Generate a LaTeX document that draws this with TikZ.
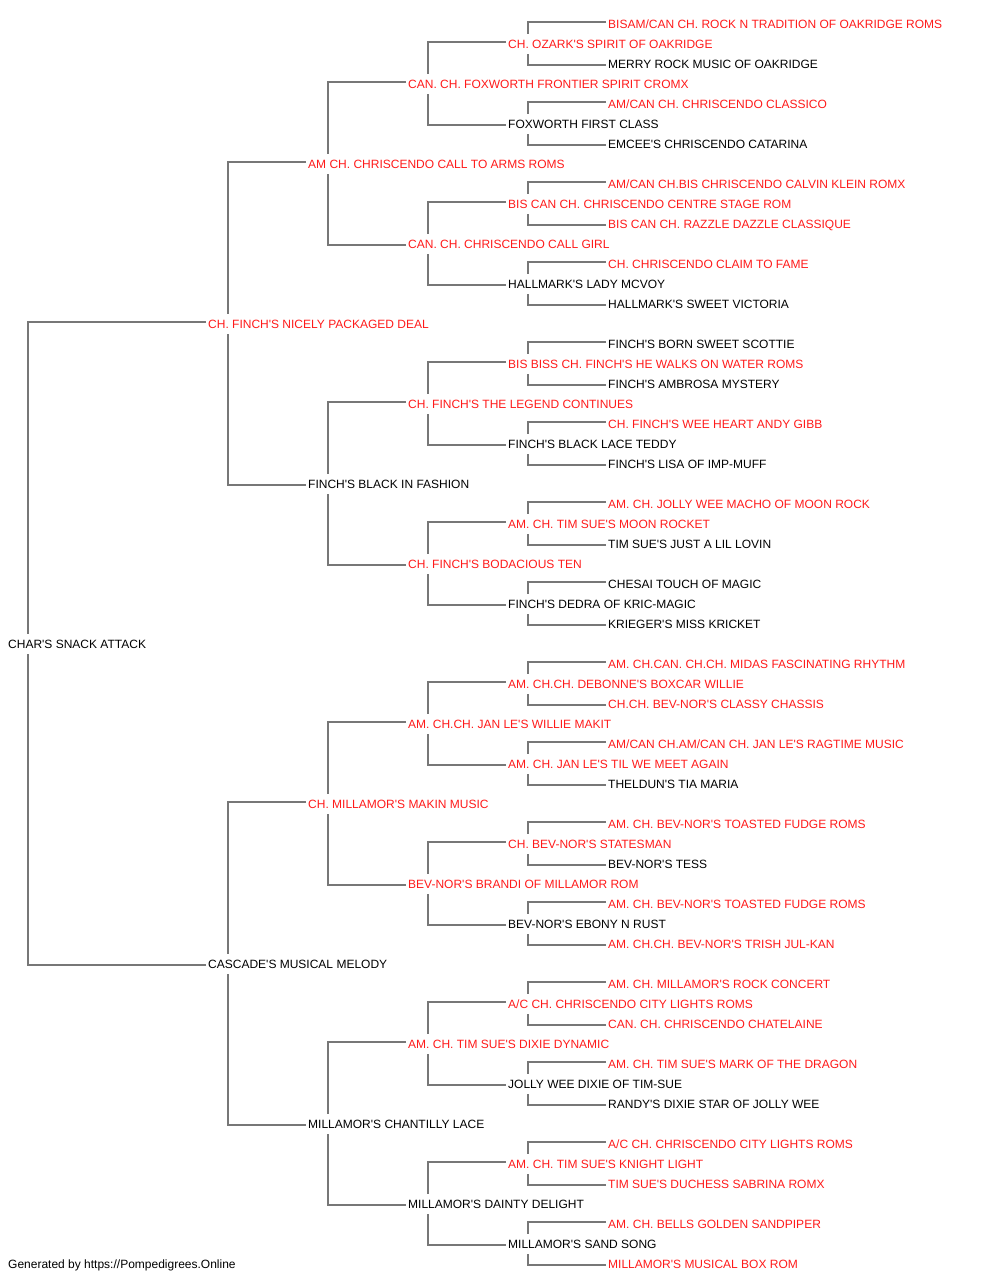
\documentclass[tikz,border=0pt]{standalone}
\usepackage{fontspec}
\setmainfont{Liberation Sans}[Ligatures=TeXOff]
\definecolor{linegray}{HTML}{777777}
\definecolor{chred}{HTML}{FF1A1A}

\begin{document}
\begin{tikzpicture}[
        x=1pt, y=-1pt,
        dog/.style={
            anchor=west, inner xsep=2pt, inner ysep=0pt,
            minimum height=20pt, text height=8.6pt, text depth=0pt,
            font=\fontsize{12}{14}\selectfont
        },
        champ/.style={dog, text=chred},
        link/.style={draw=linegray, line width=1.2pt}
    ]

    \useasboundingbox (0,-1) rectangle (1000,1279);

    % Cão
    \node[dog] (x) at (6,643) {CHAR'S SNACK ATTACK};

    % Pais
    \node[champ] (xs) at (206,323) {CH. FINCH'S NICELY PACKAGED DEAL};
    \node[dog] (xd) at (206,963) {CASCADE'S MUSICAL MELODY};

    % Avós
    \node[champ] (xss) at (306,163) {AM CH. CHRISCENDO CALL TO ARMS ROMS};
    \node[dog] (xsd) at (306,483) {FINCH'S BLACK IN FASHION};
    \node[champ] (xds) at (306,803) {CH. MILLAMOR'S MAKIN MUSIC};
    \node[dog] (xdd) at (306,1123) {MILLAMOR'S CHANTILLY LACE};

    % Bisavós
    \node[champ] (xsss) at (406,83) {CAN. CH. FOXWORTH FRONTIER SPIRIT CROMX};
    \node[champ] (xssd) at (406,243) {CAN. CH. CHRISCENDO CALL GIRL};
    \node[champ] (xsds) at (406,403) {CH. FINCH'S THE LEGEND CONTINUES};
    \node[champ] (xsdd) at (406,563) {CH. FINCH'S BODACIOUS TEN};
    \node[champ] (xdss) at (406,723) {AM. CH.CH. JAN LE'S WILLIE MAKIT};
    \node[champ] (xdsd) at (406,883) {BEV-NOR'S BRANDI OF MILLAMOR ROM};
    \node[champ] (xdds) at (406,1043) {AM. CH. TIM SUE'S DIXIE DYNAMIC};
    \node[dog] (xddd) at (406,1203) {MILLAMOR'S DAINTY DELIGHT};

    % Trisavós
    \node[champ] (xssss) at (506,43) {CH. OZARK'S SPIRIT OF OAKRIDGE};
    \node[dog] (xsssd) at (506,123) {FOXWORTH FIRST CLASS};
    \node[champ] (xssds) at (506,203) {BIS CAN CH. CHRISCENDO CENTRE STAGE ROM};
    \node[dog] (xssdd) at (506,283) {HALLMARK'S LADY MCVOY};
    \node[champ] (xsdss) at (506,363) {BIS BISS CH. FINCH'S HE WALKS ON WATER ROMS};
    \node[dog] (xsdsd) at (506,443) {FINCH'S BLACK LACE TEDDY};
    \node[champ] (xsdds) at (506,523) {AM. CH. TIM SUE'S MOON ROCKET};
    \node[dog] (xsddd) at (506,603) {FINCH'S DEDRA OF KRIC-MAGIC};
    \node[champ] (xdsss) at (506,683) {AM. CH.CH. DEBONNE'S BOXCAR WILLIE};
    \node[champ] (xdssd) at (506,763) {AM. CH. JAN LE'S TIL WE MEET AGAIN};
    \node[champ] (xdsds) at (506,843) {CH. BEV-NOR'S STATESMAN};
    \node[dog] (xdsdd) at (506,923) {BEV-NOR'S EBONY N RUST};
    \node[champ] (xddss) at (506,1003) {A/C CH. CHRISCENDO CITY LIGHTS ROMS};
    \node[dog] (xddsd) at (506,1083) {JOLLY WEE DIXIE OF TIM-SUE};
    \node[champ] (xddds) at (506,1163) {AM. CH. TIM SUE'S KNIGHT LIGHT};
    \node[dog] (xdddd) at (506,1243) {MILLAMOR'S SAND SONG};

    % Tetravós
    \node[champ] (xsssss) at (606,23) {BISAM/CAN CH. ROCK N TRADITION OF OAKRIDGE ROMS};
    \node[dog] (xssssd) at (606,63) {MERRY ROCK MUSIC OF OAKRIDGE};
    \node[champ] (xsssds) at (606,103) {AM/CAN CH. CHRISCENDO CLASSICO};
    \node[dog] (xsssdd) at (606,143) {EMCEE'S CHRISCENDO CATARINA};
    \node[champ] (xssdss) at (606,183) {AM/CAN CH.BIS CHRISCENDO CALVIN KLEIN ROMX};
    \node[champ] (xssdsd) at (606,223) {BIS CAN CH. RAZZLE DAZZLE CLASSIQUE};
    \node[champ] (xssdds) at (606,263) {CH. CHRISCENDO CLAIM TO FAME};
    \node[dog] (xssddd) at (606,303) {HALLMARK'S SWEET VICTORIA};
    \node[dog] (xsdsss) at (606,343) {FINCH'S BORN SWEET SCOTTIE};
    \node[dog] (xsdssd) at (606,383) {FINCH'S AMBROSA MYSTERY};
    \node[champ] (xsdsds) at (606,423) {CH. FINCH'S WEE HEART ANDY GIBB};
    \node[dog] (xsdsdd) at (606,463) {FINCH'S LISA OF IMP-MUFF};
    \node[champ] (xsddss) at (606,503) {AM. CH. JOLLY WEE MACHO OF MOON ROCK};
    \node[dog] (xsddsd) at (606,543) {TIM SUE'S JUST A LIL LOVIN};
    \node[dog] (xsddds) at (606,583) {CHESAI TOUCH OF MAGIC};
    \node[dog] (xsdddd) at (606,623) {KRIEGER'S MISS KRICKET};
    \node[champ] (xdssss) at (606,663) {AM. CH.CAN. CH.CH. MIDAS FASCINATING RHYTHM};
    \node[champ] (xdsssd) at (606,703) {CH.CH. BEV-NOR'S CLASSY CHASSIS};
    \node[champ] (xdssds) at (606,743) {AM/CAN CH.AM/CAN CH. JAN LE'S RAGTIME MUSIC};
    \node[dog] (xdssdd) at (606,783) {THELDUN'S TIA MARIA};
    \node[champ] (xdsdss) at (606,823) {AM. CH. BEV-NOR'S TOASTED FUDGE ROMS};
    \node[dog] (xdsdsd) at (606,863) {BEV-NOR'S TESS};
    \node[champ] (xdsdds) at (606,903) {AM. CH. BEV-NOR'S TOASTED FUDGE ROMS};
    \node[champ] (xdsddd) at (606,943) {AM. CH.CH. BEV-NOR'S TRISH JUL-KAN};
    \node[champ] (xddsss) at (606,983) {AM. CH. MILLAMOR'S ROCK CONCERT};
    \node[champ] (xddssd) at (606,1023) {CAN. CH. CHRISCENDO CHATELAINE};
    \node[champ] (xddsds) at (606,1063) {AM. CH. TIM SUE'S MARK OF THE DRAGON};
    \node[dog] (xddsdd) at (606,1103) {RANDY'S DIXIE STAR OF JOLLY WEE};
    \node[champ] (xdddss) at (606,1143) {A/C CH. CHRISCENDO CITY LIGHTS ROMS};
    \node[champ] (xdddsd) at (606,1183) {TIM SUE'S DUCHESS SABRINA ROMX};
    \node[champ] (xdddds) at (606,1223) {AM. CH. BELLS GOLDEN SANDPIPER};
    \node[champ] (xddddd) at (606,1263) {MILLAMOR'S MUSICAL BOX ROM};

    % Ligações pai/mãe
    \foreach \p in {x,xs,xd,xss,xsd,xds,xdd,
                    xsss,xssd,xsds,xsdd,xdss,xdsd,xdds,xddd,
                    xssss,xsssd,xssds,xssdd,xsdss,xsdsd,xsdds,xsddd,
                    xdsss,xdssd,xdsds,xdsdd,xddss,xddsd,xddds,xdddd} {
        \draw[link] ([yshift=2pt]\p s.west) -| ([xshift=22pt]\p.north west);
        \draw[link] ([yshift=-1pt]\p d.west) -| ([xshift=22pt]\p.south west);
    }

    % Rodapé
    \node[dog] (credit) at (6,1263) {Generated by https://Pompedigrees.Online};

\end{tikzpicture}
\end{document}
